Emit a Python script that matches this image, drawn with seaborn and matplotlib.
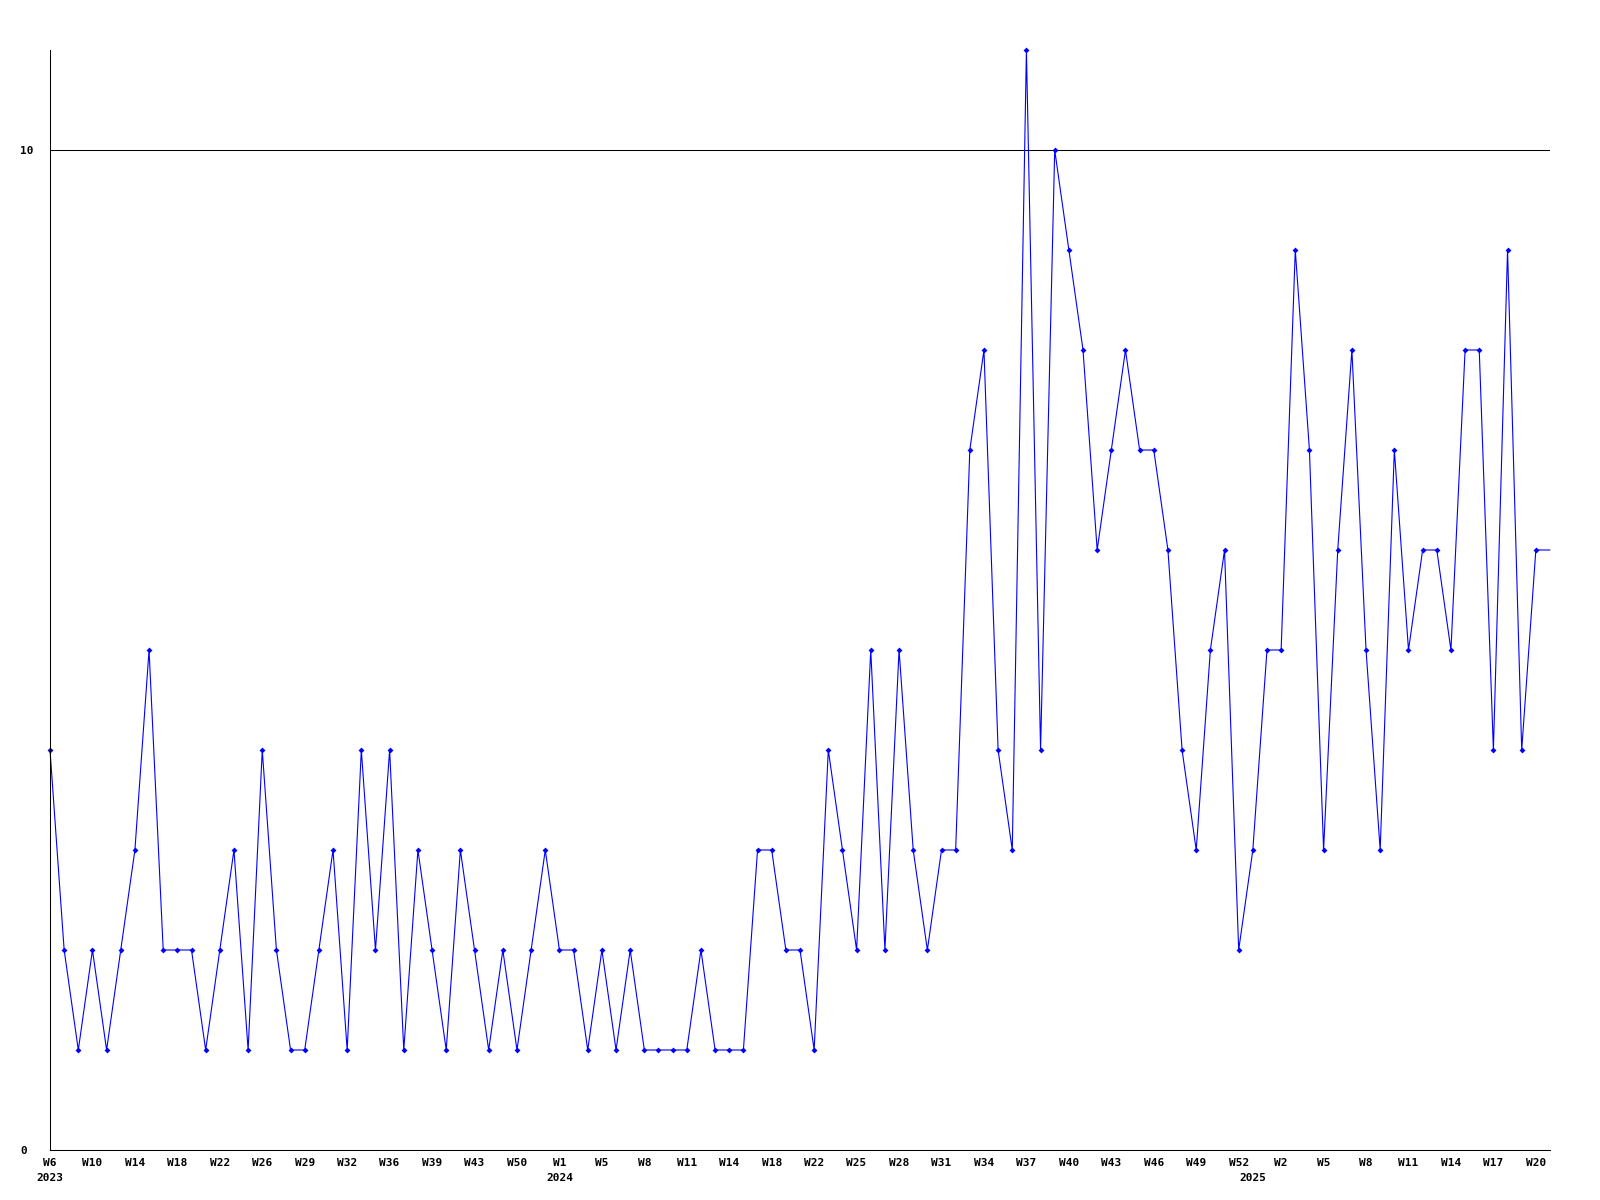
import pandas as pd
import seaborn as sns
import matplotlib
matplotlib.use('Agg')
import matplotlib.pyplot as plt
import matplotlib.transforms as mtransforms

# Data mingguan (satu titik per minggu yang tercatat)
values = [4, 2, 1, 2, 1, 2, 3, 5, 2, 2,
          2, 1, 2, 3, 1, 4, 2, 1, 1, 2,
          3, 1, 4, 2, 4, 1, 3, 2, 1, 3,
          2, 1, 2, 1, 2, 3, 2, 2, 1, 2,
          1, 2, 1, 1, 1, 1, 2, 1, 1, 1,
          3, 3, 2, 2, 1, 4, 3, 2, 5, 2,
          5, 3, 2, 3, 3, 7, 8, 4, 3, 11,
          4, 10, 9, 8, 6, 7, 8, 7, 7, 6,
          4, 3, 5, 6, 2, 3, 5, 5, 9, 7,
          3, 6, 8, 5, 3, 7, 5, 6, 6, 5,
          8, 8, 4, 9, 4, 6, 6]

# Label minggu (setiap 3 titik)
week_labels = ['W6', 'W10', 'W14', 'W18', 'W22', 'W26', 'W29', 'W32', 'W36', 'W39',
               'W43', 'W50', 'W1', 'W5', 'W8', 'W11', 'W14', 'W18', 'W22', 'W25',
               'W28', 'W31', 'W34', 'W37', 'W40', 'W43', 'W46', 'W49', 'W52', 'W2',
               'W5', 'W8', 'W11', 'W14', 'W17', 'W20']
label_step = 3

# Label tahun dan posisi minggu pertama tiap tahun
years = ['2023', '2024', '2025']
year_start = [0, 36, 85]

y_ticks = [0, 10]

df = pd.DataFrame({'idx': range(len(values)), 'value': values})

sns.set_style('white')
plt.rcParams['font.family'] = ['DejaVu Sans Mono']
plt.rcParams['font.weight'] = 'bold'
plt.rcParams['font.size'] = 8

fig = plt.figure(figsize=(16, 12), dpi=100)
ax = fig.add_axes([50 / 1600, 50 / 1200, 1500 / 1600, 1100 / 1200])

# Garis utama
sns.lineplot(x='idx', y='value', data=df, ax=ax, color='#0000ff', linewidth=0.8,
             marker='D', markersize=3, markeredgewidth=0,
             markevery=list(range(len(values) - 1)), clip_on=False)

ax.set_xlim(0, len(values) - 1)
ax.set_ylim(0, 11)

# Sumbu x
ax.set_xticks(range(0, len(values), label_step)[:len(week_labels)])
ax.set_xticklabels(week_labels, fontweight='bold', fontsize=8)
ax.tick_params(axis='x', length=0, pad=6, colors='black')

# Label tahun di bawah label minggu
trans = mtransforms.blended_transform_factory(ax.transData, ax.transAxes)
for yr, pos in zip(years, year_start):
    ax.text(pos, -0.0205, yr, transform=trans, ha='center', va='top',
            fontsize=8, fontweight='bold', color='black')

# Sumbu y
ax.set_yticks(y_ticks)
ax.set_yticklabels([str(t) for t in y_ticks], fontweight='bold', fontsize=8)
ax.tick_params(axis='y', length=0, pad=21.6, colors='black')
for lbl in ax.get_yticklabels():
    lbl.set_horizontalalignment('left')

# Garis bantu horizontal hanya pada tick y
ax.yaxis.grid(True, color='black', linewidth=0.75)
ax.xaxis.grid(False)

ax.set_xlabel('')
ax.set_ylabel('')
sns.despine(ax=ax)
for side in ['left', 'bottom']:
    ax.spines[side].set_color('black')
    ax.spines[side].set_linewidth(0.75)

fig.savefig('out.png', dpi=100)
